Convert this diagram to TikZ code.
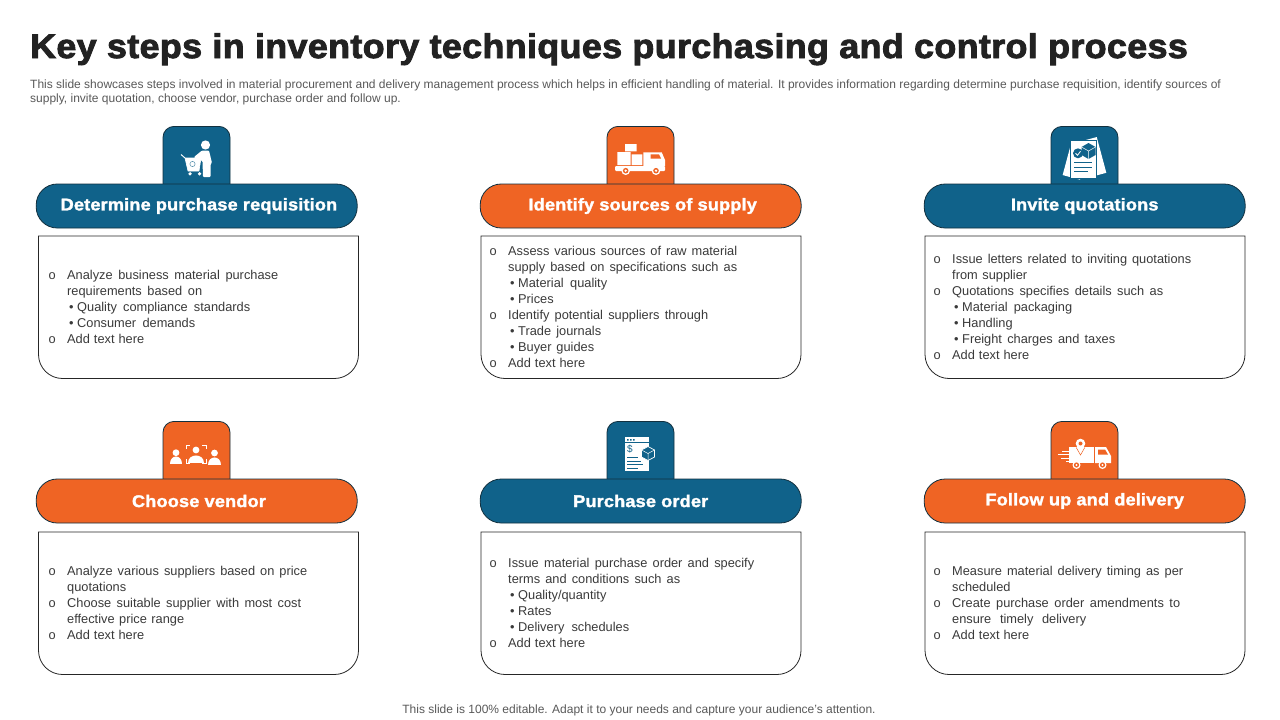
\documentclass[tikz,border=0pt]{standalone}
\usepackage{fontspec}
\setmainfont{Liberation Sans}
\newfontfamily\titlefont[LetterSpace=1.1,FakeStretch=1.054,FakeBold=2.6]{Liberation Sans Bold}
\newfontfamily\headfont[LetterSpace=0.8,FakeStretch=1.07,FakeBold=1.6]{Liberation Sans Bold}
\definecolor{bluec}{HTML}{10628A}
\definecolor{orangec}{HTML}{EF6424}
\definecolor{navyc}{HTML}{12303F}
\definecolor{titlec}{HTML}{222222}
\definecolor{bodyc}{HTML}{3A3A3A}
\definecolor{greyc}{HTML}{595959}
\newcommand{\Lo}[2]{\makebox[19pt][l]{\hspace{0.5pt}o}\makebox[#1pt][s]{#2}}
\newcommand{\Lc}[2]{\hspace{19pt}\makebox[#1pt][s]{#2}}
\newcommand{\Ls}[2]{\hspace{21pt}\makebox[8pt][l]{•}\makebox[#1pt][s]{#2}}
\newcommand{\Top}{\rule{0pt}{10pt}}
\tikzset{
 x=1pt,y=-1pt,
 tabbox/.style={draw=navyc,line width=0.8pt,rounded corners=11pt,minimum width=67pt,minimum height=76pt,inner sep=0pt,anchor=north},
 pillbox/.style={draw=navyc,line width=0.8pt,rounded corners=21pt,minimum width=321pt,minimum height=44pt,inner sep=0pt,text=white,font=\headfont\fontsize{17}{20}\selectfont},
 cardline/.style={draw=black!85,line width=0.8pt,fill=white},
 bodytext/.style={anchor=north west,inner sep=0pt,align=left,text=bodyc,font=\fontsize{12.8}{16}\selectfont},
}
\newcommand{\card}[8]{% tabx, taby, colour, name, head, bodyx, bodytop, bodybottom
 \node[tabbox,fill=#3] (tab#4) at (#1,#2) {};
 \node[pillbox,fill=#3] (pill#4) at (#1+0.2,#2+80) {#5};
 \draw[cardline] (#6,#7) -- (#6+320,#7) -- (#6+320,#8-24)
   arc[start angle=0,end angle=90,x radius=24,y radius=24] -- (#6+24,#8)
   arc[start angle=90,end angle=180,x radius=24,y radius=24] -- cycle;
}
\begin{document}
\begin{tikzpicture}
\useasboundingbox[fill=white] (0,0) rectangle (1280,720);
\node[anchor=base west,inner sep=0pt,text=titlec,font=\titlefont\fontsize{34}{40}\selectfont] (title) at (30,58) {Key steps in inventory techniques purchasing and control process};
\node[anchor=north west,inner sep=0pt,align=left,text=greyc,font=\fontsize{12}{14.2}\selectfont] (intro) at (30,79.5) {This slide showcases steps involved in material procurement and delivery management process which helps in efficient handling of material. It provides information regarding determine purchase requisition, identify sources of\\supply, invite quotation, choose vendor, purchase order and follow up.};
\card{196.5}{126}{bluec}{A}{\hspace{4.5pt}Determine purchase requisition}{38.5}{236}{378.5}
\card{640.5}{126}{orangec}{B}{\hspace{4pt}\raisebox{1.5pt}{Identify sources of supply}}{481}{236}{378.5}
\card{1084.5}{126}{bluec}{C}{\raisebox{0.5pt}{Invite quotations}}{925}{236}{378.5}
\card{196.5}{421}{orangec}{D}{\hspace{4.5pt}Choose vendor}{38.5}{532}{674.5}
\card{640.5}{421}{bluec}{E}{Purchase order}{481}{532}{674.5}
\card{1084.5}{421}{orangec}{F}{Follow up and delivery}{925}{532}{674.5}
\node[bodytext] (bodyA) at (48,269.5) {\Top\Lo{211}{Analyze business material purchase}\\\Lc{135}{requirements based on}\\\Ls{173}{Quality compliance standards}\\\Ls{118}{Consumer demands}\\\Lo{77}{Add text here}};
\node[bodytext] (bodyB) at (489,245.5) {\Top\Lo{229}{Assess various sources of raw material}\\\Lc{229}{supply based on specifications such as}\\\Ls{89}{Material quality}\\\Ls{37}{Prices}\\\Lo{200}{Identify potential suppliers through}\\\Ls{83}{Trade journals}\\\Ls{76}{Buyer guides}\\\Lo{77}{Add text here}};
\node[bodytext] (bodyC) at (933,253.5) {\Top\Lo{239}{Issue letters related to inviting quotations}\\\Lc{75}{from supplier}\\\Lo{211}{Quotations specifies details such as}\\\Ls{110}{Material packaging}\\\Ls{50}{Handling}\\\Ls{153}{Freight charges and taxes}\\\Lo{77}{Add text here}};
\node[bodytext] (bodyD) at (48,565.5) {\Top\Lo{240}{Analyze various suppliers based on price}\\\Lc{60}{quotations}\\\Lo{234}{Choose suitable supplier with most cost}\\\Lc{117}{effective price range}\\\Lo{77}{Add text here}};
\node[bodytext] (bodyE) at (489,557.5) {\Top\Lo{246}{Issue material purchase order and specify}\\\Lc{172}{terms and conditions such as}\\\Ls{92}{Quality/quantity}\\\Ls{33}{Rates}\\\Ls{111}{Delivery schedules}\\\Lo{77}{Add text here}};
\node[bodytext] (bodyF) at (933,565.5) {\Top\Lo{231}{Measure material delivery timing as per}\\\Lc{59}{scheduled}\\\Lo{228}{Create purchase order amendments to}\\\Lc{134}{ensure timely delivery}\\\Lo{77}{Add text here}};
\node[inner sep=0pt,text=greyc,font=\fontsize{12}{14}\selectfont] (foot) at (639,710) {This slide is 100\% editable. Adapt it to your needs and capture your audience's attention.};
% icon: cart and person
\fill[white] (205.5,145) circle (4.6);
\fill[white,rounded corners=1pt] (202,150.5) -- (209,150.5) -- (212,163) -- (210.5,164) -- (210.5,177) -- (203,177) -- (202.5,161) -- (195,158.5) -- (194,157) -- cycle;
\draw[white,line width=0.9pt] (181,154.5) -- (185,158);
\draw[white,fill=white,line width=0.6pt,line join=round] (185,158) -- (201,158) -- (199,171) -- (188,171) -- cycle;
\draw[bluec!70,line width=0.5pt] (192.5,164) circle (2.6);
\fill[white] (190,173.8) circle (1.8) (199.5,173.8) circle (1.8);
% icon: truck with boxes
\fill[white] (617.3,152) rectangle (630.5,165) (625,144) rectangle (636.7,151.4) (631.7,154.3) rectangle (642.3,165);
\fill[white,rounded corners=1pt] (615,166) rectangle (665,171);
\fill[white] (643.3,152.3) -- (661.7,152.3) -- (665,160) -- (665,166) -- (643.3,166) -- cycle;
\fill[orangec] (650.7,154.3) -- (659,154.3) -- (661,158.5) -- (650.7,158.5) -- cycle;
\foreach \p in {625.7,656}{\fill[white] (\p,170.7) circle (4.3);\fill[orangec] (\p,170.7) circle (2.8);\fill[white] (\p,170.7) circle (1.3);}
% icon: documents
\fill[white,rotate around={-15:(1076,160)}] (1067,142) rectangle (1085,178);
\fill[white,rotate around={15:(1092,158)}] (1084,139) rectangle (1102,176);
\draw[bluec,line width=0.7pt,fill=white] (1070.7,140) rectangle (1096,178.5);
\fill[bluec] (1088.5,143) -- (1095.5,147) -- (1095.5,155) -- (1088.5,159) -- (1081.5,155) -- (1081.5,147) -- cycle;
\draw[white,line width=0.5pt] (1081.5,147) -- (1088.5,151) -- (1095.5,147) (1088.5,151) -- (1088.5,159);
\fill[bluec] (1078,153.3) circle (5);
\draw[white,line width=0.8pt] (1075.5,153.3) -- (1077.5,155.3) -- (1080.5,151.3);
\draw[bluec,line width=0.8pt] (1074,162.5) -- (1092,162.5) (1074,167) -- (1092,167) (1074,171.5) -- (1088,171.5);
% icon: people
\foreach \hx/\hy/\bx/\by/\bw in {176/452.7/176/464/6,196/450/196/462.5/8,214.5/453/214.5/464.5/6.2}{
 \fill[white] (\hx,\hy) circle (3.4);
 \fill[white] (\bx-\bw,\by) .. controls (\bx-\bw,\by-10) and (\bx+\bw,\by-10) .. (\bx+\bw,\by) -- cycle;}
\draw[white,line width=0.7pt] (186,449) -- (186,445) -- (190,445) (202,445) -- (206,445) -- (206,449) (186,459) -- (186,463.5) -- (190,463.5) (202,463.5) -- (206,463.5) -- (206,459);
% icon: purchase document
\fill[white] (625,437) rectangle (648.5,471);
\fill[bluec] (627,439) rectangle (628.5,440.5) (630,439) rectangle (631.5,440.5) (633,439) rectangle (634.5,440.5);
\draw[bluec,line width=0.5pt] (625,442.5) -- (648.5,442.5);
\node[inner sep=0pt,text=bluec,font=\fontsize{10}{10}\selectfont] (dollar) at (630,449.5) {\$};
\draw[bluec,line width=0.7pt] (627,457.5) -- (638,457.5) (627,461) -- (641,461) (627,464.5) -- (643,464.5) (627,468) -- (638,468);
\draw[white,fill=bluec,line width=0.7pt] (648,446.5) -- (654.5,450) -- (654.5,457) -- (648,460.5) -- (641.5,457) -- (641.5,450) -- cycle;
\draw[white,line width=0.5pt] (641.5,450) -- (648,453.5) -- (654.5,450) (648,453.5) -- (648,460.5);
% icon: delivery truck
\draw[white,line width=0.8pt] (1062,451) -- (1072,451) (1058,454.5) -- (1072,454.5) (1061,458) -- (1072,458) (1066,461.5) -- (1072,461.5);
\fill[white] (1069,447) rectangle (1094,463);
\fill[white] (1095,447) -- (1106,447) -- (1111,456) -- (1111,463) -- (1095,463) -- cycle;
\fill[orangec] (1098,449.5) -- (1105,449.5) -- (1108,454.5) -- (1098,454.5) -- cycle;
\fill[white] (1080.5,443.5) circle (4.8);
\draw[orangec,line width=0.5pt] (1076.2,447.5) -- (1080.5,455) -- (1084.8,447.5);
\fill[orangec] (1080.5,443.5) circle (2);
\foreach \p in {1076.5,1102.5}{\fill[white] (\p,465) circle (4);\fill[orangec] (\p,465) circle (2.6);\fill[white] (\p,465) circle (1.1);}
\end{tikzpicture}
\end{document}
